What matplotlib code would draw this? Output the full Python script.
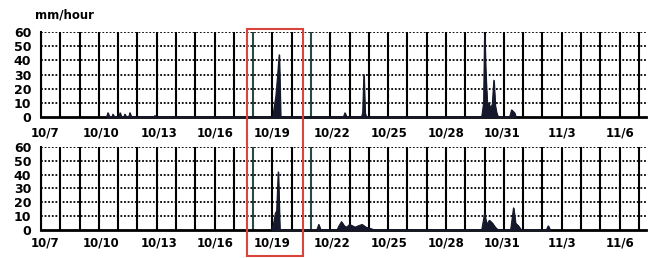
import matplotlib.pyplot as plt
from matplotlib.patches import Rectangle
from matplotlib.transforms import blended_transform_factory

# days counted from 10/7 0:00, rainfall in mm/hour
top_t = [3.40, 3.47, 3.55, 3.68, 3.73, 3.80, 4.04, 4.10, 4.17, 4.30, 4.35, 4.42, 4.55, 4.61, 4.68,
         5.85, 5.91, 5.97,
         12.02, 12.10, 12.18, 12.26, 12.35, 12.42,
         15.68, 15.76, 15.84, 16.62, 16.68, 16.74, 16.80, 16.86,
         22.85, 22.95, 23.00, 23.06, 23.14, 23.22, 23.30, 23.40, 23.48, 23.55, 23.62, 23.70,
         24.30, 24.40, 24.55, 24.62]
top_v = [0, 3, 0, 0, 2, 0, 0, 3, 0, 0, 2, 0, 0, 3, 0,
         0, 1, 0,
         0, 8, 15, 28, 44, 0,
         0, 3, 0, 0, 3, 30, 3, 0,
         0, 10, 58, 30, 8, 10, 6, 9, 26, 8, 3, 0,
         0, 5, 3, 0]

bot_t = [11.95, 12.05, 12.15, 12.22, 12.30, 12.38,
         14.30, 14.40, 14.50,
         15.35, 15.45, 15.58, 15.72, 15.85, 16.00, 16.15, 16.28, 16.45, 16.65, 16.85, 17.10, 17.30,
         22.85, 23.00, 23.10, 23.25, 23.40, 23.55, 23.70,
         24.35, 24.50, 24.60, 24.75, 24.90,
         26.20, 26.30, 26.40]
bot_v = [0, 4, 12, 14, 42, 0,
         0, 4, 0,
         0, 3, 6, 3, 2, 4, 3, 2, 3, 4, 2, 1, 0,
         0, 12, 4, 7, 5, 2, 0,
         0, 16, 5, 3, 0,
         0, 3, 0]

tick_days = [0.2, 3.1, 6.1, 9.05, 12.0, 15.1, 18.05, 21.0, 23.9, 27.0, 30.0]
tick_labels = ['10/7', '10/10', '10/13', '10/16', '10/19', '10/22',
               '10/25', '10/28', '10/31', '11/3', '11/6']
y_ticks = [0, 10, 20, 30, 40, 50, 60]
teal_days = [11, 14]
highlight = (10.68, 13.58)

fig = plt.figure(figsize=(6.56, 2.58), dpi=100)
ax1 = fig.add_axes([0.0625, 0.5465, 0.922, 0.329])
ax2 = fig.add_axes([0.0625, 0.1085, 0.922, 0.322])

for ax, t, v, pad in [(ax1, top_t, top_v, 6.5), (ax2, bot_t, bot_v, 5)]:
    ax.set_xlim(0, 31.36)
    ax.set_ylim(0, 60)
    for d in range(32):
        c = '#264a44' if d in teal_days else 'black'
        ax.axvline(d, color=c, lw=1.5, zorder=1)
    for y in y_ticks[1:]:
        ax.axhline(y, color='black', lw=1.3, ls=(0, (1, 1)), zorder=1)
    ax.fill_between(t, v, color='#15182a', lw=0.8, zorder=3)
    ax.plot(t, v, color='#15182a', lw=0.8, zorder=3)
    for s in ['top', 'right']:
        ax.spines[s].set_visible(False)
    ax.spines['left'].set_linewidth(1.5)
    ax.spines['bottom'].set_linewidth(2)
    ax.set_xticks(tick_days, tick_labels)
    ax.set_yticks(y_ticks)
    ax.tick_params(length=0, labelsize=8.5)
    ax.tick_params(axis='x', pad=pad)
    ax.tick_params(axis='y', pad=7)
    for lab in ax.get_xticklabels() + ax.get_yticklabels():
        lab.set_fontweight('bold')
    for lab in ax.get_yticklabels():
        lab.set_fontsize(9)

fig.text(0.053, 0.94, 'mm/hour', fontsize=8.5, fontweight='bold', va='center')

tr = blended_transform_factory(ax1.transData, fig.transFigure)
fig.patches.append(Rectangle((highlight[0], 1 - 256 / 258), highlight[1] - highlight[0],
                             (256 - 29) / 258, transform=tr, fill=False,
                             edgecolor='#d9453c', lw=1.5, zorder=10))

fig.savefig('out.png', dpi=100)
